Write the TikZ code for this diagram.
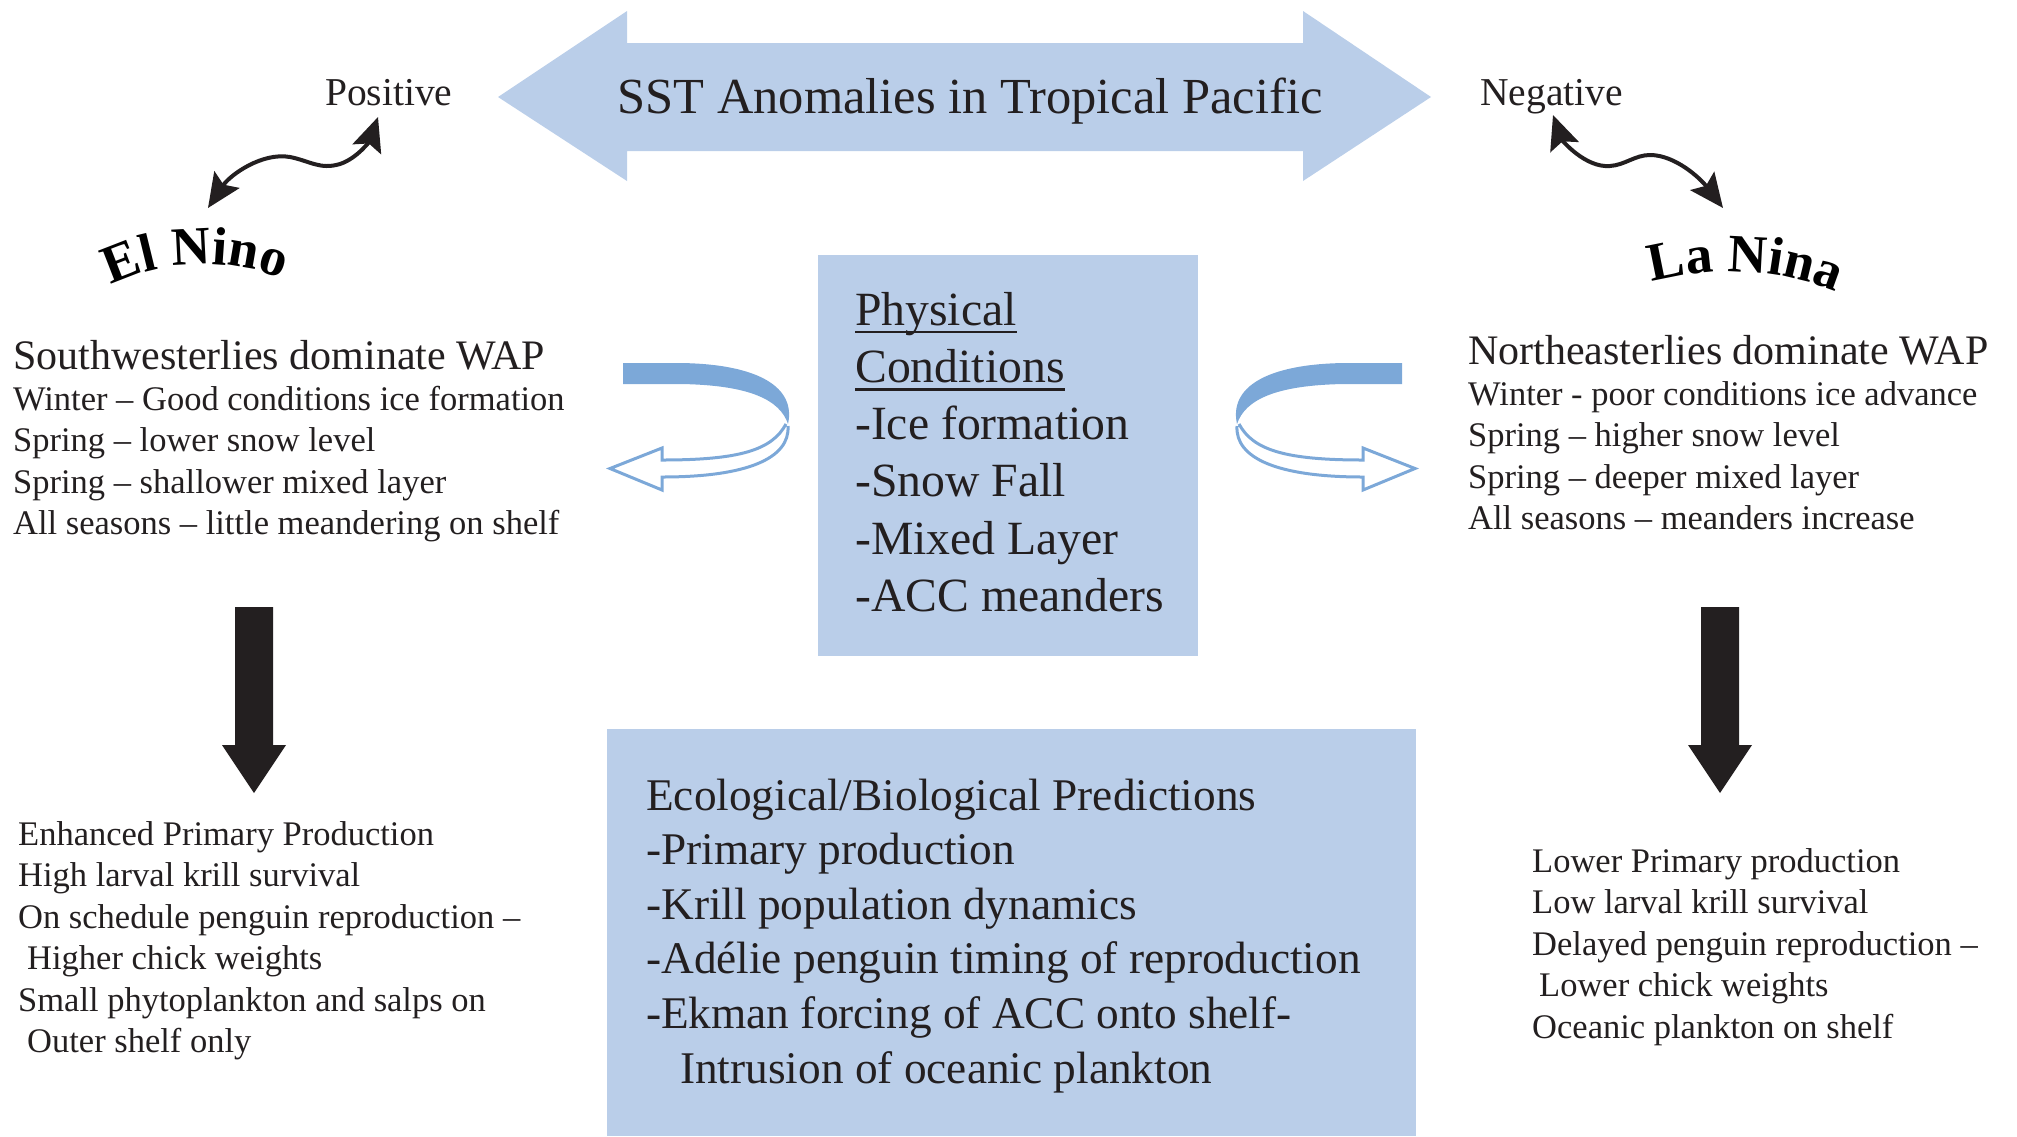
\documentclass[tikz,border=0pt]{standalone}
\usepackage{fontspec}
\setmainfont{Liberation Serif}
\usetikzlibrary{arrows.meta,decorations.text}

\definecolor{paleblue}{HTML}{BACEE9}
\definecolor{curlblue}{HTML}{7CA8D8}
\definecolor{darkink}{HTML}{231F20}

\newcommand{\thickul}[1]{\setbox0\hbox{#1}\rlap{\rule[-8.3pt]{\wd0}{2.6pt}}\box0}

\newcommand{\listsize}{\fontsize{34.5}{41.5}\selectfont}
\newcommand{\headsize}{\fontsize{42}{50}\selectfont}
\newcommand{\physsize}{\fontsize{47.7}{57.3}\selectfont}
\newcommand{\ecosize}{\fontsize{45.3}{54.6}\selectfont}
\newcommand{\signsize}{\fontsize{39.5}{47}\selectfont}
\newcommand{\ninofont}{\fontsize{54}{65}\selectfont\bfseries}

\tikzset{
  curlarrow/.pic={
    \fill[curlblue] (623,363) -- (680,363) .. controls (760,364) and (796,388) .. (788,424)
      .. controls (780,400) and (750,385) .. (680,384) -- (623,384) -- cycle;
    \draw[curlblue, line width=3pt] (786,424) .. controls (772,450) and (740,460) .. (662,460)
      -- (662,448) -- (610,468.5) -- (662,490) -- (662,477)
      .. controls (748,477) and (790,458) .. (788,426);
  },
  wavy/.style={<->, >={Stealth[length=34pt,width=30pt,inset=6pt]}, line width=4pt, darkink},
  palebox/.style={fill=paleblue, inner sep=0pt, anchor=north west},
  txt/.style={anchor=base west, align=left, inner sep=0pt, text=darkink},
}

\begin{document}
\begin{tikzpicture}[x=1pt, y=-1pt]
\useasboundingbox (0,0) rectangle (2017,1136);

\fill[paleblue] (498,97) -- (627,11) -- (627,43) -- (1303,43) -- (1303,11) -- (1431,97)
  -- (1303,181) -- (1303,151) -- (627,151) -- (627,181) -- cycle;
\node[txt, anchor=base, font=\fontsize{50.5}{61}\selectfont] (sst) at (970,113) {SST Anomalies in Tropical Pacific};

\node[txt, font=\signsize] (pos) at (325,105) {Positive};
\node[txt, font=\signsize] (neg) at (1480,105) {Negative};

\coordinate (posTip) at (378,117);
\coordinate (elTip) at (208,208);
\coordinate (negTip) at (1553,115);
\coordinate (laTip) at (1723,208);
\draw[wavy] (elTip) .. controls (230,175) and (262,152) .. (290,157)
  .. controls (310,161) and (320,170) .. (340,164) .. controls (358,158) and (370,140) .. (posTip);
\draw[wavy] (negTip) .. controls (1562,140) and (1585,168) .. (1610,166)
  .. controls (1625,165) and (1635,155) .. (1650,155) .. controls (1675,155) and (1700,178) .. (laTip);

\path[decorate, decoration={text along path, text align=center, text={|\ninofont|El Nino}}]
  (108,287) .. controls (162,258) and (232,258) .. (285,280);
\path[decorate, decoration={text along path, text align=center, text={|\ninofont|La Nina}}]
  (1653,282) .. controls (1713,267) and (1775,267) .. (1835,292);

\node[txt, font=\headsize] (swhead) at (13,369) {Southwesterlies dominate WAP};
\node[txt, font=\listsize] (swlist) at (13,534.5) {Winter – Good conditions ice formation\\
  Spring – lower snow level\\Spring – shallower mixed layer\\All seasons – little meandering on shelf};

\node[txt, font=\headsize] (nehead) at (1468,364) {Northeasterlies dominate WAP};
\node[txt, font=\listsize] (nelist) at (1468,529.5) {Winter - poor conditions ice advance\\
  Spring – higher snow level\\Spring – deeper mixed layer\\All seasons – meanders increase};

\pic (curlL) at (0,0) {curlarrow};
\pic[xscale=-1] (curlR) at (2025,0) {curlarrow};

\node[palebox, minimum width=380pt, minimum height=401pt] (physbox) at (818,255) {};
\node[txt, font=\physsize] (phys) at (855,611.5) {\thickul{Physical}\\\thickul{Conditions}\\
  -Ice formation\\-Snow Fall\\-Mixed Layer\\-ACC meanders};

\fill[darkink] (235,607) -- (273,607) -- (273,745) -- (286,745) -- (254,793) -- (222,745) -- (235,745) -- cycle;
\fill[darkink] (1701,607) -- (1739,607) -- (1739,745) -- (1752,745) -- (1720,793) -- (1688,745) -- (1701,745) -- cycle;

\node[palebox, minimum width=809pt, minimum height=407pt] (ecobox) at (607,729) {};
\node[txt, font=\ecosize] (eco) at (646,1083) {Ecological/Biological Predictions\\-Primary production\\
  -Krill population dynamics\\-Adélie penguin timing of reproduction\\-Ekman forcing of ACC onto shelf-\\
  \hspace*{34pt}Intrusion of oceanic plankton};

\node[txt, font=\listsize] (ninoeco) at (18,1052.5) {Enhanced Primary Production\\High larval krill survival\\
  On schedule penguin reproduction –\\\hspace*{9pt}Higher chick weights\\
  Small phytoplankton and salps on\\\hspace*{9pt}Outer shelf only};
\node[txt, font=\listsize] (ninaeco) at (1532,1038) {Lower Primary production\\Low larval krill survival\\
  Delayed penguin reproduction –\\\hspace*{7pt}Lower chick weights\\Oceanic plankton on shelf};
\end{tikzpicture}
\end{document}
